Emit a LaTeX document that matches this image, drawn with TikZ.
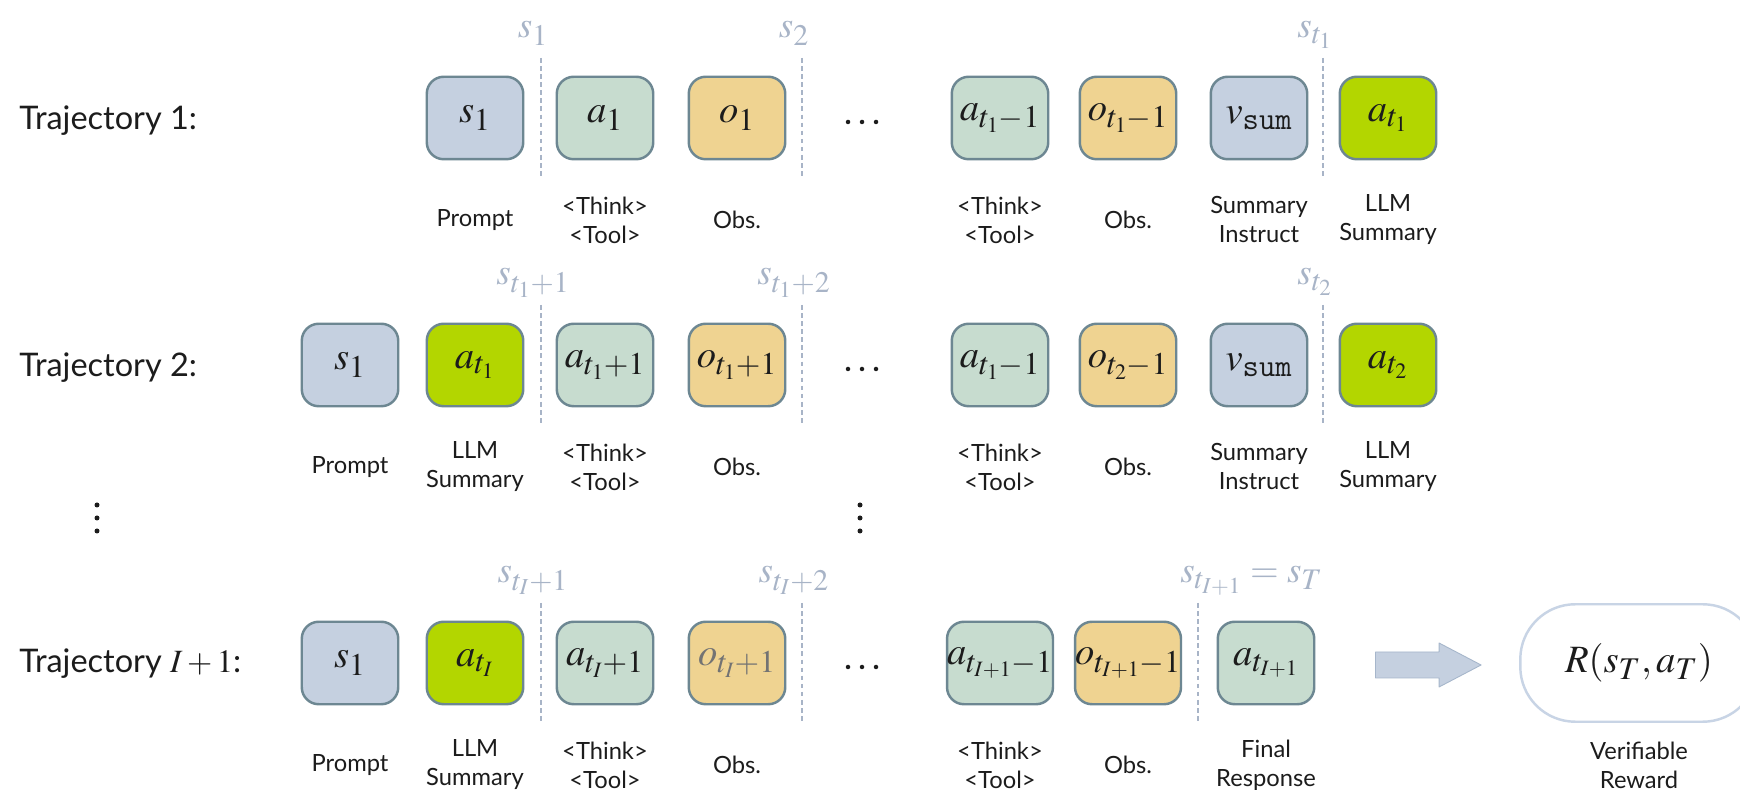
\documentclass[tikz,border=0pt]{standalone}
\usepackage{amsmath}
\usepackage{mathptmx}
\usepackage[no-math]{fontspec}
\setmainfont{Lato}
\usetikzlibrary{arrows.meta,calc,positioning}
\DeclareMathSizes{22}{22}{18}{12.5}
\DeclareMathSizes{21}{21}{17}{13}
\DeclareMathSizes{18.5}{18.5}{14}{10}
\definecolor{trajink}{HTML}{1C1C1C}
\definecolor{trajstate}{HTML}{C5D0E0}
\definecolor{trajact}{HTML}{C7DCCF}
\definecolor{trajobs}{HTML}{EFD391}
\definecolor{trajsumm}{HTML}{B3D600}
\definecolor{trajedge}{HTML}{6D8792}
\definecolor{trajcut}{HTML}{A8B4C7}
\definecolor{trajrew}{HTML}{C8D4E5}
\definecolor{trajarrow}{HTML}{A6B6CB}

\begin{document}
\begin{tikzpicture}[x=0.02cm,y=0.02cm,line cap=round,line join=round,
  text=trajink,
  blk/.style={draw=trajedge,line width=1.4pt,rounded corners=0.34cm,
    minimum width=1.93cm,minimum height=1.65cm,inner sep=0pt,
    font=\fontsize{22}{26}\selectfont},
  st/.style={blk,fill=trajstate},
  act/.style={blk,fill=trajact},
  obs/.style={blk,fill=trajobs},
  summ/.style={blk,fill=trajsumm},
  rewbox/.style={draw=trajrew,line width=1.4pt,rounded corners=1.1cm,
    minimum width=4.75cm,minimum height=2.35cm,font=\fontsize{22}{26}\selectfont},
  dot/.style={circle,inner sep=0pt,minimum size=0.09cm,fill=trajink},
  note/.style={align=center,inner sep=0pt,font=\fontsize{13.5}{16.5}\selectfont},
  traj/.style={anchor=base west,inner sep=0pt,font=\fontsize{18.5}{22}\selectfont},
  cutline/.style={draw=trajcut,line width=1.1pt,line cap=butt,dash pattern=on 2.6pt off 2pt},
  slab/.style={anchor=base,inner sep=0pt,text=trajcut,font=\fontsize{21}{24}\selectfont}]
\path[use as bounding box] (0,0) rectangle (1740,790);
\fill[white] (0,0) rectangle (1740,790);

% Trajectory 1
\node[traj] (lab1) at (19,660) {Trajectory 1:};
\node[st]   (r1s)  at (475,672) {$s_1$};
\node[act]  (r1a)  at (605,672) {$a_1$};
\node[obs]  (r1o)  at (737,672) {$o_1$};
\node[act]  (r1ak) at (1000,672) {$a_{t_1-1}$};
\node[obs]  (r1ok) at (1128,672) {$o_{t_1-1}$};
\node[st]   (r1v)  at (1259,672) {$v_{\text{\ttfamily sum}}$};
\node[summ] (r1at) at (1388,672) {$a_{t_1}$};
\foreach \k in {-1,0,1}
  \node[dot] (r1d\k) at (862+14*\k,668) {};
\foreach \x/\lbl [count=\i] in {541/{s_1},802/{s_2},1323/{s_{t_1}}}{
  \draw[cutline] (\x,732) -- (\x,613);
  \node[slab] (r1c\i) at (\x-8,752) {$\lbl$};
}
\foreach \n/\t in {r1s/Prompt,r1a/{<Think>\\<Tool>},r1o/Obs.,r1ak/{<Think>\\<Tool>},
    r1ok/Obs.,r1v/{Summary\\Instruct},r1at/{LLM\\Summary}}
  \node[note] (\n-n) at ($(\n)+(0,-102)$) {\t};

% Trajectory 2
\node[traj] (lab2) at (19,413) {Trajectory 2:};
\node[st]   (r2s)  at (350,425) {$s_1$};
\node[summ] (r2at) at (475,425) {$a_{t_1}$};
\node[act]  (r2a)  at (605,425) {$a_{t_1+1}$};
\node[obs]  (r2o)  at (737,425) {$o_{t_1+1}$};
\node[act]  (r2ak) at (1000,425) {$a_{t_1-1}$};
\node[obs]  (r2ok) at (1128,425) {$o_{t_2-1}$};
\node[st]   (r2v)  at (1259,425) {$v_{\text{\ttfamily sum}}$};
\node[summ] (r2au) at (1388,425) {$a_{t_2}$};
\foreach \k in {-1,0,1}
  \node[dot] (r2d\k) at (862+14*\k,421) {};
\foreach \x/\lbl [count=\i] in {541/{s_{t_1+1}},802/{s_{t_1+2}},1323/{s_{t_2}}}{
  \draw[cutline] (\x,485) -- (\x,366);
  \node[slab] (r2c\i) at (\x-8,505) {$\lbl$};
}
\foreach \n/\t in {r2s/Prompt,r2at/{LLM\\Summary},r2a/{<Think>\\<Tool>},r2o/Obs.,
    r2ak/{<Think>\\<Tool>},r2ok/Obs.,r2v/{Summary\\Instruct},r2au/{LLM\\Summary}}
  \node[note] (\n-n) at ($(\n)+(0,-102)$) {\t};

% vertical dots between the rows
\foreach \k in {-1,0,1}{
  \node[dot,minimum size=0.1cm] (vl\k) at (97,272+13*\k) {};
  \node[dot,minimum size=0.1cm] (vm\k) at (860,272+13*\k) {};
}

% Trajectory I+1
\node[traj] (lab3) at (19,117) {Trajectory $I+1$:};
\node[st]   (r3s)  at (350,127) {$s_1$};
\node[summ] (r3at) at (475,127) {$a_{t_I}$};
\node[act]  (r3a)  at (605,127) {$a_{t_I+1}$};
\node[obs,text=black!55] (r3o) at (737,127) {$o_{t_I+1}$};
\node[act]  (r3ak) at (1000,127) {$a_{t_{I+1}-1}$};
\node[obs]  (r3ok) at (1128,127) {$o_{t_{I+1}-1}$};
\node[act]  (r3f)  at (1266,127) {$a_{t_{I+1}}$};
\foreach \k in {-1,0,1}
  \node[dot] (r3d\k) at (862+14*\k,123) {};
\foreach \x/\lbl [count=\i] in {541/{s_{t_I+1}},802/{s_{t_I+2}}}{
  \draw[cutline] (\x,187) -- (\x,68);
  \node[slab] (r3c\i) at (\x-8,207) {$\lbl$};
}
\draw[cutline] (1198,187) -- (1198,68);
\node[slab,anchor=base west] (r3c3) at (1180,207) {$s_{t_{I+1}} = s_T$};
\foreach \n/\t in {r3s/Prompt,r3at/{LLM\\Summary},r3a/{<Think>\\<Tool>},r3o/Obs.,
    r3ak/{<Think>\\<Tool>},r3ok/Obs.,r3f/{Final\\Response}}
  \node[note] (\n-n) at ($(\n)+(0,-102)$) {\t};

% reward
\node[rewbox] (rew) at (1639,127) {$R(s_T,a_T)$};
\node[note] (rew-n) at ($(rew)+(0,-102)$) {Verifiable\\Reward};
\coordinate (ar0) at ($(r3f.east)+(60,-2)$);
\coordinate (ar1) at ($(rew.west)+(-38,-2)$);
\filldraw[fill=trajstate,draw=trajarrow,line width=0.5pt]
  ($(ar0)+(0,13)$) -- ($(ar1)+(-42,13)$) -- ($(ar1)+(-42,22)$) -- (ar1)
  -- ($(ar1)+(-42,-22)$) -- ($(ar1)+(-42,-13)$) -- ($(ar0)+(0,-13)$) -- cycle;
\end{tikzpicture}
\end{document}
